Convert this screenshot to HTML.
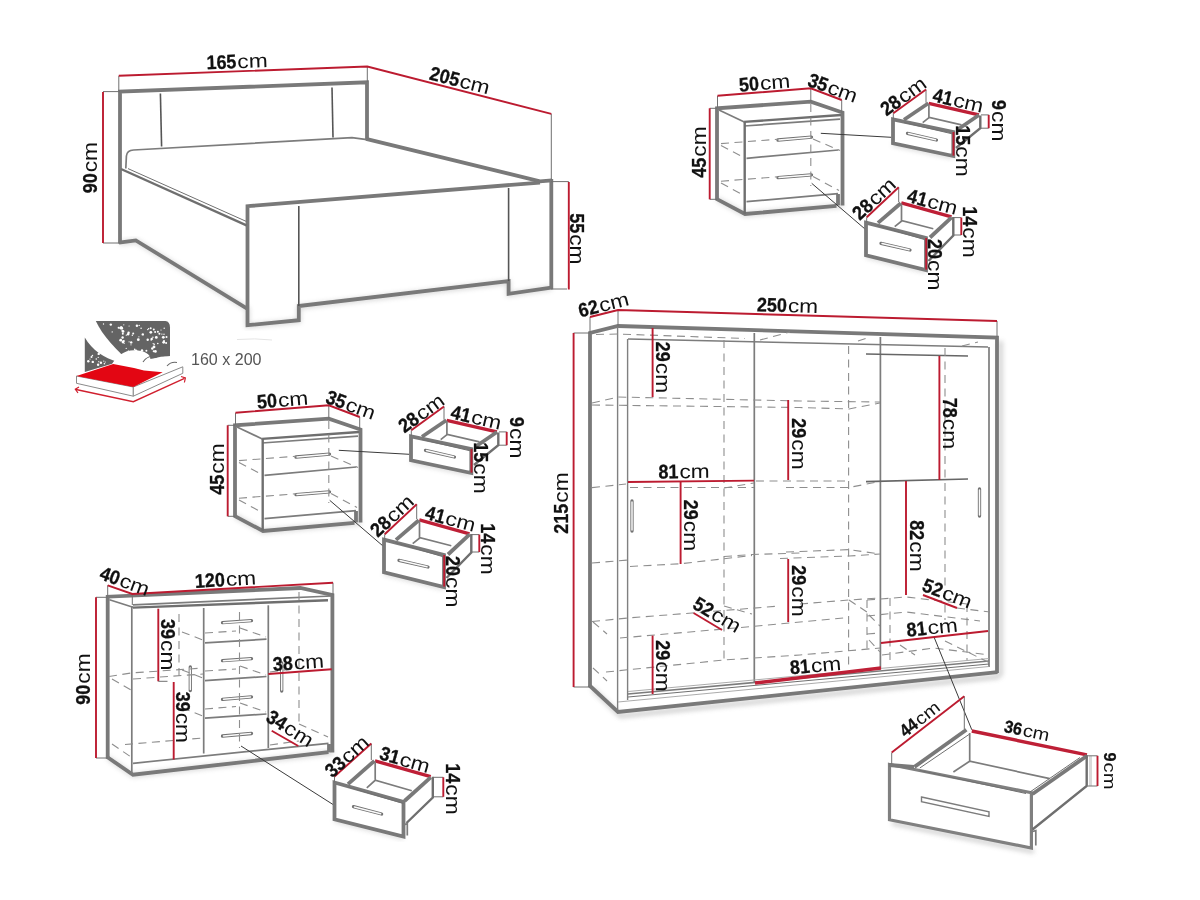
<!DOCTYPE html>
<html><head><meta charset="utf-8"><title>Dimensions</title>
<style>
html,body{margin:0;padding:0;background:#fff;}
body{width:1200px;height:900px;overflow:hidden;}
svg{display:block;will-change:transform;font-family:"Liberation Sans",sans-serif;fill:#111;}
path{fill:none;stroke-linecap:butt;stroke-linejoin:miter;}
.k{stroke:#797979;stroke-width:3.8;}
.k2{stroke:#6f6f6f;stroke-width:2.4;}
.m{stroke:#7c7c7c;stroke-width:1.7;}
.n{stroke:#808080;stroke-width:1.4;}
.t{stroke:#707070;stroke-width:1;}
.tt{stroke:#a2a2a2;stroke-width:0.9;}
.dk{stroke:#555;stroke-width:1.6;}
.d{stroke:#8e8e8e;stroke-width:1.1;stroke-dasharray:8 5.5;}
.r{stroke:#bc1b30;stroke-width:1.9;}
.R{stroke:#be1f36;stroke-width:3.4;}
.p{stroke:#3a3a3a;stroke-width:1;}
.w{fill:#fff;}
.h{stroke:#727272;stroke-width:3.3;stroke-linecap:round;}
.hi{stroke:#fafafa;stroke-width:1.5;stroke-linecap:round;}
</style></head><body>
<svg width="1200" height="900" viewBox="0 0 1200 900">
<defs>
<filter id="sh" x="-5%" y="-5%" width="110%" height="110%"><feGaussianBlur stdDeviation="2.8"/></filter>
</defs>
<g id="bed">
<g filter="url(#sh)" opacity="0.35">
<path class="k" d="M120,243 L136,241 L247.5,309 L247.5,326 L299,321 L299,307 L508.5,282 L508.5,294.5 L551.5,288"/>
</g>
<path class="k" d="M120,243.5 L120,91.6 L367,82.3 L367,139"/>
<path class="k" d="M366,138.8 L540,181.3 L552,180.4"/>
<path class="k" d="M551.3,179 L551.3,287.6 L508.6,293.8 L508.6,281.2 L298.8,306 L298.8,320.2 L247.5,325.2 L247.5,206.2 L540,182.6"/>
<path class="k" d="M119,242.7 L135.8,240.4 L247.5,308.8"/>
<path class="k2" d="M121,169 L246.5,225.3"/>
<path class="t" d="M128,168.6 L246.5,221.5"/>
<path class="m" d="M125.8,168.5 L126.4,156 Q127,150.3 133.5,150 L352,137.6 L367,139.6"/>
<path class="dk" d="M160.4,93.5 L161.6,146.5"/>
<path class="dk" d="M332,87.5 L333,137.6"/>
<path class="dk" d="M298.8,206 L298.8,306"/>
<path class="dk" d="M508.6,188 L508.6,281"/>
<path class="t" d="M118.8,75.8 V91 M367.3,66.5 V82 M551.3,113.8 V180 M103,91.6 H120 M103,243 H120 M551,181.6 H568.8 M551,289 H567"/>
<path class="r" d="M118.8,75.8 L367.3,66.5 L551.3,113.8"/>
<path class="r" d="M103,92 V243"/>
<path class="r" d="M568.8,182 V289.5"/>
<g transform="translate(237,61) rotate(-2.1)" font-size="19.6"><text x="-30.65" y="7.15" font-weight="700" stroke="#111" stroke-width="0.3" textLength="30.0" lengthAdjust="spacingAndGlyphs">165</text><text x="0.35" y="7.15" textLength="30.3" lengthAdjust="spacingAndGlyphs">cm</text></g>
<g transform="translate(460,80) rotate(14.3)" font-size="19.6"><text x="-30.65" y="7.15" font-weight="700" stroke="#111" stroke-width="0.3" textLength="30.0" lengthAdjust="spacingAndGlyphs">205</text><text x="0.35" y="7.15" textLength="30.3" lengthAdjust="spacingAndGlyphs">cm</text></g>
<g transform="translate(89.8,167.7) rotate(-90)" font-size="19.6"><text x="-25.65" y="7.15" font-weight="700" stroke="#111" stroke-width="0.3" textLength="20.0" lengthAdjust="spacingAndGlyphs">90</text><text x="-4.65" y="7.15" textLength="30.3" lengthAdjust="spacingAndGlyphs">cm</text></g>
<g transform="translate(577.5,238.8) rotate(90)" font-size="19.6"><text x="-25.65" y="7.15" font-weight="700" stroke="#111" stroke-width="0.3" textLength="20.0" lengthAdjust="spacingAndGlyphs">55</text><text x="-4.65" y="7.15" textLength="30.3" lengthAdjust="spacingAndGlyphs">cm</text></g>
</g>
<g id="ns1">
<g filter="url(#sh)" opacity="0.35">
<path class="k" d="M717,199 L745,214.5 L836,206.3 L843,205.5 M866,256 L926,271 M893,144 L953.3,157"/>
</g>
<path class="k" d="M717,200 L717,108.3 L810.8,101.7 L842.5,112.5 L842.5,205.5"/>
<path class="k" d="M716,198.6 L745,214 L836.5,205.8"/>
<path class="k" d="M838,194 L838,205.4"/>
<path class="k2" d="M744,121.9 L841,115"/>
<path class="m" d="M744,126 L840,119.2"/>
<path class="m" d="M719,110 L744.3,121.9"/>
<path class="k2" d="M744.7,122 V214"/>
<path class="m" d="M746.5,158.3 L838.3,150"/>
<path class="m" d="M746.5,201.7 L838,193.7"/>
<path class="h" d="M778,140 L811.5,137.1"/>
<path class="hi" d="M779,140 L810.5,137.2"/>
<path class="h" d="M778,177.6 L811.5,174.9"/>
<path class="hi" d="M779,177.6 L810.5,175"/>
<path class="d" d="M721,143.6 L778,139.2"/>
<path class="d" d="M721,181.2 L778,176.8"/>
<path class="d" d="M810.8,104 V186"/>
<path class="d" d="M721,145.5 L744,157.5"/>
<path class="d" d="M721,183 L744,195.5"/>
<path class="d" d="M813,139 L840,150.5"/>
<path class="d" d="M813,176.5 L839,190.5"/>
<path class="p" d="M820.8,133.3 L891.3,137.3"/>
<path class="p" d="M811.7,183.3 L865,229"/>
<path class="t" d="M717.5,95.8 V108 M810.8,88.3 V101.5 M841.7,100 V112.5 M709.7,108.3 H717 M709.7,199.3 H717"/>
<path class="r" d="M717.5,95.8 L810.8,88.3 L841.7,100"/>
<path class="r" d="M709.7,108.3 V199.3"/>
<g transform="translate(764.5,82.5) rotate(-4.5)" font-size="19.6"><text x="-25.65" y="7.15" font-weight="700" stroke="#111" stroke-width="0.3" textLength="20.0" lengthAdjust="spacingAndGlyphs">50</text><text x="-4.65" y="7.15" textLength="30.3" lengthAdjust="spacingAndGlyphs">cm</text></g>
<g transform="translate(833,87.5) rotate(20)" font-size="19.6"><text x="-25.65" y="7.15" font-weight="700" stroke="#111" stroke-width="0.3" textLength="20.0" lengthAdjust="spacingAndGlyphs">35</text><text x="-4.65" y="7.15" textLength="30.3" lengthAdjust="spacingAndGlyphs">cm</text></g>
<g transform="translate(699,152) rotate(-90)" font-size="19.6"><text x="-25.65" y="7.15" font-weight="700" stroke="#111" stroke-width="0.3" textLength="20.0" lengthAdjust="spacingAndGlyphs">45</text><text x="-4.65" y="7.15" textLength="30.3" lengthAdjust="spacingAndGlyphs">cm</text></g>
<path class="k w" d="M893,119.3 L953.3,132 L953.3,156 L893,143.3 Z"/>
<path class="h" d="M907.5,133.4 L936.5,140"/>
<path class="hi" d="M908.5,133.6 L935.5,139.8"/>
<path class="k" d="M904,119.8 L928.4,103.3"/>
<path class="R" d="M928.7,103.4 L978.9,114.8"/>
<path class="k" d="M979,115 L957,130"/>
<path class="m" d="M928.9,104 V117.5 M922.7,122.7 L929.3,117.4 L961.5,124.8"/>
<path class="t" d="M904,122.5 L953,134"/>
<path class="k2" d="M980.3,115.5 V128.2 L956,148"/>
<path class="t" d="M981,114.9 H988.7 M981,128.2 H988.7 M893.3,113.3 V119 M926,89.6 V102.7"/>
<path class="r" d="M988.7,114.9 V128.2"/>
<path class="r" d="M953.5,132 V155.6"/>
<path class="r" d="M893.3,113.3 L926,89.6"/>
<g transform="translate(903,95.7) rotate(-36)" font-size="19.6"><text x="-25.65" y="7.15" font-weight="700" stroke="#111" stroke-width="0.3" textLength="20.0" lengthAdjust="spacingAndGlyphs">28</text><text x="-4.65" y="7.15" textLength="30.3" lengthAdjust="spacingAndGlyphs">cm</text></g>
<g transform="translate(958.3,100) rotate(13)" font-size="19.6"><text x="-25.65" y="7.15" font-weight="700" stroke="#111" stroke-width="0.3" textLength="20.0" lengthAdjust="spacingAndGlyphs">41</text><text x="-4.65" y="7.15" textLength="30.3" lengthAdjust="spacingAndGlyphs">cm</text></g>
<g transform="translate(998.7,120.7) rotate(90)" font-size="19.6"><text x="-20.65" y="7.15" font-weight="700" stroke="#111" stroke-width="0.3" textLength="10.0" lengthAdjust="spacingAndGlyphs">9</text><text x="-9.65" y="7.15" textLength="30.3" lengthAdjust="spacingAndGlyphs">cm</text></g>
<g transform="translate(963,151) rotate(90)" font-size="19.6"><text x="-25.65" y="7.15" font-weight="700" stroke="#111" stroke-width="0.3" textLength="20.0" lengthAdjust="spacingAndGlyphs">15</text><text x="-4.65" y="7.15" textLength="30.3" lengthAdjust="spacingAndGlyphs">cm</text></g>
<path class="k w" d="M866,222.7 L926,238 L926,270 L866,255.3 Z"/>
<path class="h" d="M881,243.4 L910,250"/>
<path class="hi" d="M882,243.6 L909,249.8"/>
<path class="k" d="M878,222.9 L900.8,203.3"/>
<path class="R" d="M901.3,202.8 L951.5,216.8"/>
<path class="k" d="M951.6,217.3 L930,237.5"/>
<path class="m" d="M901.5,203.5 V220.7 M894.7,226.7 L902,220.8 L933.3,228.7"/>
<path class="t" d="M877,225.5 L926,240"/>
<path class="k2" d="M953.3,217 V235.5 L928.5,261"/>
<path class="t" d="M954,217.6 H961.3 M954,235 H961.3 M866.7,217.3 V222.7 M898.7,187.3 V202"/>
<path class="r" d="M961.3,217.6 V235"/>
<path class="r" d="M926.2,238 V269.6"/>
<path class="r" d="M866.7,217.3 L898.7,187.3"/>
<g transform="translate(873.7,198.3) rotate(-43)" font-size="19.6"><text x="-25.65" y="7.15" font-weight="700" stroke="#111" stroke-width="0.3" textLength="20.0" lengthAdjust="spacingAndGlyphs">28</text><text x="-4.65" y="7.15" textLength="30.3" lengthAdjust="spacingAndGlyphs">cm</text></g>
<g transform="translate(932.7,201.3) rotate(15)" font-size="19.6"><text x="-25.65" y="7.15" font-weight="700" stroke="#111" stroke-width="0.3" textLength="20.0" lengthAdjust="spacingAndGlyphs">41</text><text x="-4.65" y="7.15" textLength="30.3" lengthAdjust="spacingAndGlyphs">cm</text></g>
<g transform="translate(970,232) rotate(90)" font-size="19.6"><text x="-25.65" y="7.15" font-weight="700" stroke="#111" stroke-width="0.3" textLength="20.0" lengthAdjust="spacingAndGlyphs">14</text><text x="-4.65" y="7.15" textLength="30.3" lengthAdjust="spacingAndGlyphs">cm</text></g>
<g transform="translate(935.3,264.7) rotate(90)" font-size="19.6"><text x="-25.65" y="7.15" font-weight="700" stroke="#111" stroke-width="0.3" textLength="20.0" lengthAdjust="spacingAndGlyphs">20</text><text x="-4.65" y="7.15" textLength="30.3" lengthAdjust="spacingAndGlyphs">cm</text></g>
</g>
<g id="ns2" transform="translate(-482,317)">
<g filter="url(#sh)" opacity="0.35">
<path class="k" d="M717,199 L745,214.5 L836,206.3 L843,205.5 M866,256 L926,271 M893,144 L953.3,157"/>
</g>
<path class="k" d="M717,200 L717,108.3 L810.8,101.7 L842.5,112.5 L842.5,205.5"/>
<path class="k" d="M716,198.6 L745,214 L836.5,205.8"/>
<path class="k" d="M838,194 L838,205.4"/>
<path class="k2" d="M744,121.9 L841,115"/>
<path class="m" d="M744,126 L840,119.2"/>
<path class="m" d="M719,110 L744.3,121.9"/>
<path class="k2" d="M744.7,122 V214"/>
<path class="m" d="M746.5,158.3 L838.3,150"/>
<path class="m" d="M746.5,201.7 L838,193.7"/>
<path class="h" d="M778,140 L811.5,137.1"/>
<path class="hi" d="M779,140 L810.5,137.2"/>
<path class="h" d="M778,177.6 L811.5,174.9"/>
<path class="hi" d="M779,177.6 L810.5,175"/>
<path class="d" d="M721,143.6 L778,139.2"/>
<path class="d" d="M721,181.2 L778,176.8"/>
<path class="d" d="M810.8,104 V186"/>
<path class="d" d="M721,145.5 L744,157.5"/>
<path class="d" d="M721,183 L744,195.5"/>
<path class="d" d="M813,139 L840,150.5"/>
<path class="d" d="M813,176.5 L839,190.5"/>
<path class="p" d="M820.8,133.3 L891.3,137.3"/>
<path class="p" d="M811.7,183.3 L865,229"/>
<path class="t" d="M717.5,95.8 V108 M810.8,88.3 V101.5 M841.7,100 V112.5 M709.7,108.3 H717 M709.7,199.3 H717"/>
<path class="r" d="M717.5,95.8 L810.8,88.3 L841.7,100"/>
<path class="r" d="M709.7,108.3 V199.3"/>
<g transform="translate(764.5,82.5) rotate(-4.5)" font-size="19.6"><text x="-25.65" y="7.15" font-weight="700" stroke="#111" stroke-width="0.3" textLength="20.0" lengthAdjust="spacingAndGlyphs">50</text><text x="-4.65" y="7.15" textLength="30.3" lengthAdjust="spacingAndGlyphs">cm</text></g>
<g transform="translate(833,87.5) rotate(20)" font-size="19.6"><text x="-25.65" y="7.15" font-weight="700" stroke="#111" stroke-width="0.3" textLength="20.0" lengthAdjust="spacingAndGlyphs">35</text><text x="-4.65" y="7.15" textLength="30.3" lengthAdjust="spacingAndGlyphs">cm</text></g>
<g transform="translate(699,152) rotate(-90)" font-size="19.6"><text x="-25.65" y="7.15" font-weight="700" stroke="#111" stroke-width="0.3" textLength="20.0" lengthAdjust="spacingAndGlyphs">45</text><text x="-4.65" y="7.15" textLength="30.3" lengthAdjust="spacingAndGlyphs">cm</text></g>
<path class="k w" d="M893,119.3 L953.3,132 L953.3,156 L893,143.3 Z"/>
<path class="h" d="M907.5,133.4 L936.5,140"/>
<path class="hi" d="M908.5,133.6 L935.5,139.8"/>
<path class="k" d="M904,119.8 L928.4,103.3"/>
<path class="R" d="M928.7,103.4 L978.9,114.8"/>
<path class="k" d="M979,115 L957,130"/>
<path class="m" d="M928.9,104 V117.5 M922.7,122.7 L929.3,117.4 L961.5,124.8"/>
<path class="t" d="M904,122.5 L953,134"/>
<path class="k2" d="M980.3,115.5 V128.2 L956,148"/>
<path class="t" d="M981,114.9 H988.7 M981,128.2 H988.7 M893.3,113.3 V119 M926,89.6 V102.7"/>
<path class="r" d="M988.7,114.9 V128.2"/>
<path class="r" d="M953.5,132 V155.6"/>
<path class="r" d="M893.3,113.3 L926,89.6"/>
<g transform="translate(903,95.7) rotate(-36)" font-size="19.6"><text x="-25.65" y="7.15" font-weight="700" stroke="#111" stroke-width="0.3" textLength="20.0" lengthAdjust="spacingAndGlyphs">28</text><text x="-4.65" y="7.15" textLength="30.3" lengthAdjust="spacingAndGlyphs">cm</text></g>
<g transform="translate(958.3,100) rotate(13)" font-size="19.6"><text x="-25.65" y="7.15" font-weight="700" stroke="#111" stroke-width="0.3" textLength="20.0" lengthAdjust="spacingAndGlyphs">41</text><text x="-4.65" y="7.15" textLength="30.3" lengthAdjust="spacingAndGlyphs">cm</text></g>
<g transform="translate(998.7,120.7) rotate(90)" font-size="19.6"><text x="-20.65" y="7.15" font-weight="700" stroke="#111" stroke-width="0.3" textLength="10.0" lengthAdjust="spacingAndGlyphs">9</text><text x="-9.65" y="7.15" textLength="30.3" lengthAdjust="spacingAndGlyphs">cm</text></g>
<g transform="translate(963,151) rotate(90)" font-size="19.6"><text x="-25.65" y="7.15" font-weight="700" stroke="#111" stroke-width="0.3" textLength="20.0" lengthAdjust="spacingAndGlyphs">15</text><text x="-4.65" y="7.15" textLength="30.3" lengthAdjust="spacingAndGlyphs">cm</text></g>
<path class="k w" d="M866,222.7 L926,238 L926,270 L866,255.3 Z"/>
<path class="h" d="M881,243.4 L910,250"/>
<path class="hi" d="M882,243.6 L909,249.8"/>
<path class="k" d="M878,222.9 L900.8,203.3"/>
<path class="R" d="M901.3,202.8 L951.5,216.8"/>
<path class="k" d="M951.6,217.3 L930,237.5"/>
<path class="m" d="M901.5,203.5 V220.7 M894.7,226.7 L902,220.8 L933.3,228.7"/>
<path class="t" d="M877,225.5 L926,240"/>
<path class="k2" d="M953.3,217 V235.5 L928.5,261"/>
<path class="t" d="M954,217.6 H961.3 M954,235 H961.3 M866.7,217.3 V222.7 M898.7,187.3 V202"/>
<path class="r" d="M961.3,217.6 V235"/>
<path class="r" d="M926.2,238 V269.6"/>
<path class="r" d="M866.7,217.3 L898.7,187.3"/>
<g transform="translate(873.7,198.3) rotate(-43)" font-size="19.6"><text x="-25.65" y="7.15" font-weight="700" stroke="#111" stroke-width="0.3" textLength="20.0" lengthAdjust="spacingAndGlyphs">28</text><text x="-4.65" y="7.15" textLength="30.3" lengthAdjust="spacingAndGlyphs">cm</text></g>
<g transform="translate(932.7,201.3) rotate(15)" font-size="19.6"><text x="-25.65" y="7.15" font-weight="700" stroke="#111" stroke-width="0.3" textLength="20.0" lengthAdjust="spacingAndGlyphs">41</text><text x="-4.65" y="7.15" textLength="30.3" lengthAdjust="spacingAndGlyphs">cm</text></g>
<g transform="translate(970,232) rotate(90)" font-size="19.6"><text x="-25.65" y="7.15" font-weight="700" stroke="#111" stroke-width="0.3" textLength="20.0" lengthAdjust="spacingAndGlyphs">14</text><text x="-4.65" y="7.15" textLength="30.3" lengthAdjust="spacingAndGlyphs">cm</text></g>
<g transform="translate(935.3,264.7) rotate(90)" font-size="19.6"><text x="-25.65" y="7.15" font-weight="700" stroke="#111" stroke-width="0.3" textLength="20.0" lengthAdjust="spacingAndGlyphs">20</text><text x="-4.65" y="7.15" textLength="30.3" lengthAdjust="spacingAndGlyphs">cm</text></g>
</g>
<g id="dresser">
<g filter="url(#sh)" opacity="0.35">
<path class="k" d="M107.7,757.5 L133,775.5 L328.5,753 L333,752.5 M334.5,820 L403.5,837.5"/>
</g>
<path class="k" d="M107.7,758.5 L107.7,596.7 L300.3,588 L332.4,595 L332.4,752.6"/>
<path class="k" d="M106.8,756.8 L133,774.7 L328.5,752.2"/>
<path class="k" d="M329,744 V752.4"/>
<path class="m" d="M109.5,599.8 L133,607.3"/>
<path class="k2" d="M133,607.6 L328,600.2"/>
<path class="m" d="M133,604.8 L331.5,596"/>
<path class="m" d="M131.8,606 V773.5"/>
<path class="m" d="M203.7,608 V753.5"/>
<path class="m" d="M268.3,605.3 V748"/>
<path class="m" d="M205,642.8 L266.5,639.2 M205,680.6 L266.5,676.5 M205,718.2 L266.5,714"/>
<path class="m" d="M133,763.3 L328.5,743.3"/>
<path class="h" d="M222.5,622.7 L251.5,620.7"/>
<path class="hi" d="M223.5,622.7 L250.5,620.7"/>
<path class="h" d="M222.5,660.7 L251.5,658.7"/>
<path class="hi" d="M223.5,660.7 L250.5,658.7"/>
<path class="h" d="M222.5,699.3 L251.5,696.9"/>
<path class="hi" d="M223.5,699.3 L250.5,696.9"/>
<path class="h" d="M222.5,736 L251.5,733.5"/>
<path class="hi" d="M223.5,736 L250.5,733.5"/>
<path class="h" d="M190.3,667 V690.5"/>
<path class="hi" d="M190.3,668 V689.5"/>
<path class="h" d="M281.7,663 V691"/>
<path class="hi" d="M281.7,664 V690"/>
<path class="d" d="M179,614 V678"/>
<path class="d" d="M299,592 V724"/>
<path class="d" d="M239.5,612 V748"/>
<path class="d" d="M109,676.5 L131,673 L203,668"/>
<path class="d" d="M112,679 L131,690"/>
<path class="d" d="M133,679 L203,674"/>
<path class="d" d="M125,744.5 L203,738"/>
<path class="d" d="M112,744 L131,757"/>
<path class="d" d="M182,632 L203,640 M182,670 L203,678 M182,708 L203,716"/>
<path class="d" d="M240,628 L266,637 M240,666 L266,675 M240,703 L266,712"/>
<path class="d" d="M205,633 L236,631 M205,671 L236,669 M205,709 L236,706.5"/>
<path class="d" d="M270,672 L299,668"/>
<path class="d" d="M299,724 L328,737"/>
<path class="d" d="M270,745 L299,741"/>
<path class="p" d="M241,746 L333.8,805"/>
<path class="t" d="M107.7,585.3 V596.5 M132.3,594 V605 M333,582.7 V595 M96,597.3 H107.7 M96,758 H107.7"/>
<path class="r" d="M107.7,585.3 L132.3,594 L333,582.7"/>
<path class="r" d="M96,597.3 V758"/>
<path class="r" d="M158.3,608.7 V681.3"/>
<path class="t" d="M158.3,681.3 H167.5"/>
<path class="r" d="M173.7,682 V759.5"/>
<path class="r" d="M268.3,674 L331.7,669.3"/>
<path class="r" d="M271.7,730.7 L298.3,746"/>
<g transform="translate(125,580.7) rotate(20)" font-size="19.6"><text x="-25.65" y="7.15" font-weight="700" stroke="#111" stroke-width="0.3" textLength="20.0" lengthAdjust="spacingAndGlyphs">40</text><text x="-4.65" y="7.15" textLength="30.3" lengthAdjust="spacingAndGlyphs">cm</text></g>
<g transform="translate(225.4,579) rotate(-3.4)" font-size="19.6"><text x="-30.65" y="7.15" font-weight="700" stroke="#111" stroke-width="0.3" textLength="30.0" lengthAdjust="spacingAndGlyphs">120</text><text x="0.35" y="7.15" textLength="30.3" lengthAdjust="spacingAndGlyphs">cm</text></g>
<g transform="translate(83,679) rotate(-90)" font-size="19.6"><text x="-25.65" y="7.15" font-weight="700" stroke="#111" stroke-width="0.3" textLength="20.0" lengthAdjust="spacingAndGlyphs">90</text><text x="-4.65" y="7.15" textLength="30.3" lengthAdjust="spacingAndGlyphs">cm</text></g>
<g transform="translate(167.7,644.7) rotate(90)" font-size="19.6"><text x="-25.65" y="7.15" font-weight="700" stroke="#111" stroke-width="0.3" textLength="20.0" lengthAdjust="spacingAndGlyphs">39</text><text x="-4.65" y="7.15" textLength="30.3" lengthAdjust="spacingAndGlyphs">cm</text></g>
<g transform="translate(183,717.3) rotate(90)" font-size="19.6"><text x="-25.65" y="7.15" font-weight="700" stroke="#111" stroke-width="0.3" textLength="20.0" lengthAdjust="spacingAndGlyphs">39</text><text x="-4.65" y="7.15" textLength="30.3" lengthAdjust="spacingAndGlyphs">cm</text></g>
<g transform="translate(298.3,662) rotate(-4)" font-size="19.6"><text x="-25.65" y="7.15" font-weight="700" stroke="#111" stroke-width="0.3" textLength="20.0" lengthAdjust="spacingAndGlyphs">38</text><text x="-4.65" y="7.15" textLength="30.3" lengthAdjust="spacingAndGlyphs">cm</text></g>
<g transform="translate(290.3,728) rotate(32)" font-size="19.6"><text x="-25.65" y="7.15" font-weight="700" stroke="#111" stroke-width="0.3" textLength="20.0" lengthAdjust="spacingAndGlyphs">34</text><text x="-4.65" y="7.15" textLength="30.3" lengthAdjust="spacingAndGlyphs">cm</text></g>
<path class="k w" d="M334.5,782.5 L403.5,802 L403.5,836.5 L334.5,819.3 Z"/>
<path class="h" d="M353.5,806.6 L381.6,814"/>
<path class="hi" d="M354.5,806.9 L380.6,813.7"/>
<path class="k" d="M348,784.2 L374.4,760.8"/>
<path class="R" d="M375,760.9 L430.7,776.6"/>
<path class="k" d="M430.7,777.3 L404.5,801"/>
<path class="m" d="M375.2,761.5 V779.5 M366.8,787.8 L375.2,780.3 L411.8,790.8"/>
<path class="t" d="M348,787 L403.5,803.5"/>
<path class="k2" d="M432.8,776.8 V797.5 L406.5,823"/>
<path class="m" d="M403.5,824.6 L407.3,823.8 V835.5"/>
<path class="t" d="M433.5,777.3 H443.3 M433.5,796.8 H443.3 M334.5,776.5 V782.5 M371.3,743.5 V760"/>
<path class="r" d="M443.3,777.3 V796.8"/>
<path class="r" d="M334.5,776.5 L371.3,743.5"/>
<g transform="translate(346.5,756) rotate(-42)" font-size="19.6"><text x="-25.65" y="7.15" font-weight="700" stroke="#111" stroke-width="0.3" textLength="20.0" lengthAdjust="spacingAndGlyphs">33</text><text x="-4.65" y="7.15" textLength="30.3" lengthAdjust="spacingAndGlyphs">cm</text></g>
<g transform="translate(405,759.3) rotate(16)" font-size="19.6"><text x="-25.65" y="7.15" font-weight="700" stroke="#111" stroke-width="0.3" textLength="20.0" lengthAdjust="spacingAndGlyphs">31</text><text x="-4.65" y="7.15" textLength="30.3" lengthAdjust="spacingAndGlyphs">cm</text></g>
<g transform="translate(453,789) rotate(90)" font-size="19.6"><text x="-25.65" y="7.15" font-weight="700" stroke="#111" stroke-width="0.3" textLength="20.0" lengthAdjust="spacingAndGlyphs">14</text><text x="-4.65" y="7.15" textLength="30.3" lengthAdjust="spacingAndGlyphs">cm</text></g>
</g>
<g id="wardrobe">
<g filter="url(#sh)" opacity="0.42" transform="translate(2.5,3)">
<path class="k" d="M590,686 L618,713 L997,673.5 M998,338 V673 M889.5,820 L1031.4,848.5"/>
</g>
<path class="k" d="M590,687 L590,333 L618,326 L997,337.6 L997,673"/>
<path class="k" d="M589,685 L618,712 L997.5,672.2"/>
<path class="n" d="M617.6,327 V710"/>
<path class="n" d="M627.6,339 V700"/>
<path class="m" d="M754.3,333 V683"/>
<path class="m" d="M880.4,337 V668"/>
<path class="m" d="M989,347 V667"/>
<path class="m" d="M628,339 L988,347"/>
<path class="m" d="M628,694 L989,661"/>
<path class="tt" d="M628,691.5 L989,658.5"/>
<path class="tt" d="M618,702 L989,666.5"/>
<path class="t" d="M628,697 L989,664"/>
<path d="M866,354 L968,356" style="stroke:#666;stroke-width:1.7"/>
<path d="M866,481.6 L968,479" style="stroke:#666;stroke-width:1.7"/>
<path class="h" d="M632,501 V531"/>
<path class="hi" d="M632,502 V530"/>
<path class="h" d="M979.5,489 V516"/>
<path class="hi" d="M979.5,490 V515"/>
<path class="d" d="M724,340 V661"/>
<path class="d" d="M848.6,346 V668"/>
<path class="d" d="M945,348 V620"/>
<path class="d" d="M596,334.5 L618,334 L745,338.5"/>
<path class="d" d="M760,340 L790,332"/>
<path class="d" d="M858,341 L870,337 M962,346 L978,342"/>
<path class="d" d="M592,403 L618,397 L800,401 L880,402"/>
<path class="d" d="M592,405 L800,407.5 L849,409 L880,403"/>
<path class="d" d="M592,487.6 L626,484"/>
<path class="d" d="M630,487.5 L754,487.5"/>
<path class="d" d="M724,488 L754,483"/>
<path class="d" d="M756,481 L849,481"/>
<path class="d" d="M786,487.5 L849,487.5 L880,481.5"/>
<path class="d" d="M592,563 L628,560"/>
<path class="d" d="M630,566.5 L680,563.8 L752,555.5"/>
<path class="d" d="M724,556.5 L752,554.5 L800,553"/>
<path class="d" d="M786,552 L849,549.6 L880,554"/>
<path class="d" d="M780,558.5 L849,556 L880,554"/>
<path class="d" d="M592,621.5 L628,618 L692,613 L780,606"/>
<path class="d" d="M800,604 L849,600 L880,598"/>
<path class="d" d="M620,638 L724,629 L800,622 L849,617.5"/>
<path class="d" d="M606,672 L724,660 L800,655 L880,648"/>
<path class="d" d="M593,622 L607,634 M593,668 L607,681"/>
<path class="d" d="M724,606 L752,614"/>
<path class="d" d="M849,600 L867,612"/>
<path class="d" d="M867,600 L906,597 L967,604"/>
<path class="d" d="M867,600 V650"/>
<path class="d" d="M867,616 L906,612 L980,621"/>
<path class="d" d="M890,598 V664"/>
<path class="d" d="M967,604 V660"/>
<path class="d" d="M867,634 L880,633"/>
<path class="d" d="M882,655 L934,648 L990,655"/>
<path class="d" d="M945,641 L990,663"/>
<path class="d" d="M869,615 L880,626 M869,640 L880,652 M900,645 L915,655"/>
<path class="d" d="M957,608 L990,612"/>
<path class="p" d="M934,637 L971.8,729.8"/>
<path class="t" d="M590,317 V333 M618,310 V326 M997,321 V337 M573.6,333 H590 M573.6,687 H590"/>
<path class="r" d="M590,317 L618,310 L997,321"/>
<path class="r" d="M573.6,333 V687"/>
<path class="r" d="M652.6,328 V397"/>
<path class="r" d="M788.2,400 V480"/>
<path class="r" d="M680.6,482 V564"/>
<path class="r" d="M788.2,559 V622"/>
<path class="r" d="M652.6,635.6 V694"/>
<path class="r" d="M939.4,356 V480"/>
<path class="r" d="M906,481 V595"/>
<path class="r" d="M628,482 L754,480.6"/>
<path class="R" d="M755,683 L881,668"/>
<path class="r" d="M881,643 L988,631"/>
<path class="r" d="M693.6,613 L722,630"/>
<path class="r" d="M923,595 L957,608"/>
<g transform="translate(603.5,304.3) rotate(-14)" font-size="19.6"><text x="-25.65" y="7.15" font-weight="700" stroke="#111" stroke-width="0.3" textLength="20.0" lengthAdjust="spacingAndGlyphs">62</text><text x="-4.65" y="7.15" textLength="30.3" lengthAdjust="spacingAndGlyphs">cm</text></g>
<g transform="translate(787.5,305) rotate(1.7)" font-size="19.6"><text x="-30.65" y="7.15" font-weight="700" stroke="#111" stroke-width="0.3" textLength="30.0" lengthAdjust="spacingAndGlyphs">250</text><text x="0.35" y="7.15" textLength="30.3" lengthAdjust="spacingAndGlyphs">cm</text></g>
<g transform="translate(560.8,503) rotate(-90)" font-size="19.6"><text x="-30.65" y="7.15" font-weight="700" stroke="#111" stroke-width="0.3" textLength="30.0" lengthAdjust="spacingAndGlyphs">215</text><text x="0.35" y="7.15" textLength="30.3" lengthAdjust="spacingAndGlyphs">cm</text></g>
<g transform="translate(663,367.5) rotate(90)" font-size="19.6"><text x="-25.65" y="7.15" font-weight="700" stroke="#111" stroke-width="0.3" textLength="20.0" lengthAdjust="spacingAndGlyphs">29</text><text x="-4.65" y="7.15" textLength="30.3" lengthAdjust="spacingAndGlyphs">cm</text></g>
<g transform="translate(799,444) rotate(90)" font-size="19.6"><text x="-25.65" y="7.15" font-weight="700" stroke="#111" stroke-width="0.3" textLength="20.0" lengthAdjust="spacingAndGlyphs">29</text><text x="-4.65" y="7.15" textLength="30.3" lengthAdjust="spacingAndGlyphs">cm</text></g>
<g transform="translate(691,525.5) rotate(90)" font-size="19.6"><text x="-25.65" y="7.15" font-weight="700" stroke="#111" stroke-width="0.3" textLength="20.0" lengthAdjust="spacingAndGlyphs">29</text><text x="-4.65" y="7.15" textLength="30.3" lengthAdjust="spacingAndGlyphs">cm</text></g>
<g transform="translate(799,591) rotate(90)" font-size="19.6"><text x="-25.65" y="7.15" font-weight="700" stroke="#111" stroke-width="0.3" textLength="20.0" lengthAdjust="spacingAndGlyphs">29</text><text x="-4.65" y="7.15" textLength="30.3" lengthAdjust="spacingAndGlyphs">cm</text></g>
<g transform="translate(663,666) rotate(90)" font-size="19.6"><text x="-25.65" y="7.15" font-weight="700" stroke="#111" stroke-width="0.3" textLength="20.0" lengthAdjust="spacingAndGlyphs">29</text><text x="-4.65" y="7.15" textLength="30.3" lengthAdjust="spacingAndGlyphs">cm</text></g>
<g transform="translate(950,423.5) rotate(90)" font-size="19.6"><text x="-25.65" y="7.15" font-weight="700" stroke="#111" stroke-width="0.3" textLength="20.0" lengthAdjust="spacingAndGlyphs">78</text><text x="-4.65" y="7.15" textLength="30.3" lengthAdjust="spacingAndGlyphs">cm</text></g>
<g transform="translate(917,546) rotate(90)" font-size="19.6"><text x="-25.65" y="7.15" font-weight="700" stroke="#111" stroke-width="0.3" textLength="20.0" lengthAdjust="spacingAndGlyphs">82</text><text x="-4.65" y="7.15" textLength="30.3" lengthAdjust="spacingAndGlyphs">cm</text></g>
<g transform="translate(684,471) rotate(-0.6)" font-size="19.6"><text x="-25.65" y="7.15" font-weight="700" stroke="#111" stroke-width="0.3" textLength="20.0" lengthAdjust="spacingAndGlyphs">81</text><text x="-4.65" y="7.15" textLength="30.3" lengthAdjust="spacingAndGlyphs">cm</text></g>
<g transform="translate(815.5,665) rotate(-5)" font-size="19.6"><text x="-25.65" y="7.15" font-weight="700" stroke="#111" stroke-width="0.3" textLength="20.0" lengthAdjust="spacingAndGlyphs">81</text><text x="-4.65" y="7.15" textLength="30.3" lengthAdjust="spacingAndGlyphs">cm</text></g>
<g transform="translate(932,627) rotate(-6)" font-size="19.6"><text x="-25.65" y="7.15" font-weight="700" stroke="#111" stroke-width="0.3" textLength="20.0" lengthAdjust="spacingAndGlyphs">81</text><text x="-4.65" y="7.15" textLength="30.3" lengthAdjust="spacingAndGlyphs">cm</text></g>
<g transform="translate(717.4,614.4) rotate(30)" font-size="19.6"><text x="-25.65" y="7.15" font-weight="700" stroke="#111" stroke-width="0.3" textLength="20.0" lengthAdjust="spacingAndGlyphs">52</text><text x="-4.65" y="7.15" textLength="30.3" lengthAdjust="spacingAndGlyphs">cm</text></g>
<g transform="translate(947.6,593) rotate(21)" font-size="19.6"><text x="-25.65" y="7.15" font-weight="700" stroke="#111" stroke-width="0.3" textLength="20.0" lengthAdjust="spacingAndGlyphs">52</text><text x="-4.65" y="7.15" textLength="30.3" lengthAdjust="spacingAndGlyphs">cm</text></g>
<path class="k w" style="stroke-width:3.2;stroke:#808080" d="M889.5,764.5 L1031.4,792.7 L1031.4,848 L889.5,819.8 Z"/>
<path d="M921.5,797 L989,811.9 L989,816.5 L921.5,801.6 Z" style="fill:#fff;stroke:#7c7c7c;stroke-width:1.4"/>
<path class="k" d="M889,765 L914,767"/>
<path class="k" d="M914.4,766.9 L966.4,729.8"/>
<path class="t" d="M919.8,768 L969.7,734"/>
<path class="R" d="M971.8,731 L1086.9,754.9"/>
<path class="k" d="M1087,755.8 L1032.5,794"/>
<path class="t" d="M1080,757.5 L1030,792"/>
<path class="m" d="M969.7,733 V761 M953.4,772 L969.7,761.2 L1049.8,778.6"/>
<path class="t" d="M919.8,770.5 L1026,793.5"/>
<path class="k2" d="M1086.7,755 V786 L1032.5,829.5"/>
<path class="m" d="M1031.4,831.7 L1035.8,830.6 V845.5"/>
<path d="M1090.5,756 V786" style="stroke:#d9d9d9;stroke-width:3"/>
<path class="t" d="M1088,755.8 H1097.5 M1088,786 H1097.5 M891.7,752.6 V764 M964.3,696.3 V729"/>
<path class="r" d="M1097.5,755.8 V786"/>
<path class="r" d="M891.7,752.6 L964.3,696.3"/>
<g transform="translate(919.4,718.6) rotate(-38)" font-size="17.3"><text x="-22.90" y="6.31" font-weight="700" stroke="#111" stroke-width="0.3" textLength="18.0" lengthAdjust="spacingAndGlyphs">44</text><text x="-3.90" y="6.31" textLength="26.8" lengthAdjust="spacingAndGlyphs">cm</text></g>
<g transform="translate(1027,730.3) rotate(12)" font-size="17.3"><text x="-22.90" y="6.31" font-weight="700" stroke="#111" stroke-width="0.3" textLength="18.0" lengthAdjust="spacingAndGlyphs">36</text><text x="-3.90" y="6.31" textLength="26.8" lengthAdjust="spacingAndGlyphs">cm</text></g>
<g transform="translate(1110.5,771) rotate(90)" font-size="17.3"><text x="-18.40" y="6.31" font-weight="700" stroke="#111" stroke-width="0.3" textLength="9.0" lengthAdjust="spacingAndGlyphs">9</text><text x="-8.40" y="6.31" textLength="26.8" lengthAdjust="spacingAndGlyphs">cm</text></g>
</g>
<g id="icon">
<path d="M95.8,321 L165.4,321 Q170,321.5 170,327.5 L170,356 L130,362 C118,352 102,335 95.8,321 Z" style="fill:#646464;stroke:none"/>
<path d="M84.8,337.5 C92,350 104,358 118,362 L84.8,372 Z" style="fill:#646464;stroke:none"/>
<g style="fill:#fff;stroke:none"><circle cx="121.7" cy="328.2" r="1.4"/><circle cx="161.0" cy="330.0" r="0.6"/><circle cx="129.1" cy="326.0" r="0.6"/><circle cx="136.9" cy="325.7" r="1.2"/><circle cx="142.0" cy="350.5" r="1.2"/><circle cx="139.2" cy="325.4" r="0.7"/><circle cx="119.4" cy="328.0" r="0.6"/><circle cx="138.3" cy="339.7" r="1.4"/><circle cx="142.8" cy="334.4" r="1.2"/><circle cx="147.7" cy="339.8" r="1.2"/><circle cx="128.6" cy="332.8" r="1.2"/><circle cx="161.9" cy="334.1" r="0.7"/><circle cx="153.2" cy="343.6" r="0.7"/><circle cx="133.2" cy="333.6" r="1.0"/><circle cx="150.7" cy="328.3" r="1.0"/><circle cx="128.3" cy="350.9" r="0.6"/><circle cx="151.2" cy="340.0" r="0.8"/><circle cx="122.8" cy="333.8" r="1.0"/><circle cx="138.9" cy="336.8" r="0.6"/><circle cx="163.3" cy="337.3" r="1.4"/><circle cx="120.7" cy="340.2" r="1.4"/><circle cx="155.1" cy="332.0" r="1.0"/><circle cx="159.4" cy="333.7" r="1.0"/><circle cx="123.8" cy="341.1" r="1.0"/><circle cx="126.2" cy="348.4" r="0.6"/><circle cx="118.6" cy="327.8" r="1.0"/><circle cx="157.9" cy="331.8" r="1.0"/><circle cx="166.1" cy="343.1" r="1.0"/><circle cx="164.2" cy="328.2" r="0.7"/><circle cx="112.2" cy="331.9" r="0.7"/><circle cx="128.1" cy="334.3" r="1.2"/><circle cx="121.3" cy="327.5" r="1.2"/><circle cx="163.7" cy="342.3" r="1.4"/><circle cx="152.3" cy="348.5" r="1.2"/><circle cx="126.3" cy="335.2" r="0.6"/><circle cx="132.3" cy="335.2" r="0.7"/><circle cx="103.5" cy="324.0" r="0.7"/><circle cx="136.0" cy="350.6" r="1.2"/><circle cx="141.1" cy="328.2" r="0.8"/><circle cx="164.0" cy="340.9" r="1.0"/><circle cx="166.5" cy="337.0" r="1.0"/><circle cx="120.9" cy="328.0" r="1.4"/><circle cx="123.0" cy="331.4" r="1.4"/><circle cx="110.8" cy="324.6" r="1.2"/><circle cx="124.2" cy="343.3" r="0.6"/><circle cx="150.8" cy="332.3" r="1.4"/><circle cx="157.8" cy="343.5" r="0.8"/><circle cx="134.7" cy="349.4" r="0.8"/><circle cx="151.7" cy="338.9" r="1.2"/><circle cx="122.1" cy="330.2" r="0.7"/><circle cx="154.0" cy="346.9" r="1.4"/><circle cx="153.8" cy="329.6" r="1.0"/><circle cx="123.8" cy="324.8" r="0.6"/><circle cx="152.9" cy="337.2" r="0.7"/><circle cx="146.4" cy="350.8" r="1.0"/><circle cx="154.2" cy="344.2" r="0.8"/><circle cx="164.0" cy="334.2" r="0.7"/><circle cx="122.6" cy="337.5" r="1.2"/><circle cx="156.3" cy="337.4" r="1.4"/><circle cx="123.0" cy="342.0" r="1.4"/><circle cx="147.7" cy="329.6" r="0.7"/><circle cx="129.1" cy="341.8" r="0.6"/><circle cx="153.7" cy="351.2" r="1.0"/><circle cx="131.0" cy="344.8" r="0.6"/><circle cx="148.6" cy="328.8" r="0.7"/><circle cx="131.2" cy="342.4" r="1.2"/><circle cx="155.4" cy="351.4" r="1.4"/><circle cx="103.8" cy="361.1" r="0.6"/><circle cx="98.1" cy="364.8" r="1.2"/><circle cx="91.5" cy="357.0" r="1.0"/><circle cx="92.4" cy="355.5" r="0.8"/><circle cx="88.3" cy="361.3" r="1.2"/><circle cx="100.9" cy="362.7" r="1.2"/><circle cx="104.4" cy="363.8" r="0.8"/><circle cx="98.2" cy="357.4" r="0.6"/><circle cx="105.3" cy="362.0" r="0.6"/><circle cx="90.0" cy="359.1" r="0.6"/><circle cx="98.7" cy="353.9" r="1.2"/><circle cx="92.8" cy="361.9" r="1.2"/><circle cx="98.8" cy="361.7" r="0.6"/><circle cx="96.3" cy="359.0" r="0.8"/></g>
<path d="M111,366 C116,355 127,348.5 138,350.5 C147,351.5 152,356 150,361 C158,355 172,355 180,361 C186,365.5 184,370 177,371.5 L150,375 L130,370 Z" style="fill:#fff;stroke:none"/>
<path d="M143,362 C146,357 151,356 154,356.5 M167,366 C170,362.5 174,362 177,362.5" style="stroke:#666;stroke-width:1.1"/>
<path d="M76.5,376 L133.3,387 L133.3,396.2 L76.5,383.3 Z" style="fill:#fff;stroke:#8a8a8a;stroke-width:1"/>
<path d="M133.3,387 L182.8,366.8 L182.8,373.3 L133.3,396.2 Z" style="fill:#fff;stroke:#8a8a8a;stroke-width:1"/>
<path d="M76.5,376 L113.2,364 L134,368 L144,370.5 L162.7,372.3 L133.3,387 Z" style="fill:#e30613;stroke:none"/>
<path d="M76,389.5 L133.3,401.7 L184.5,378.3" style="stroke:#d01f2e;stroke-width:1.3"/>
<path d="M79,387 L75.3,389.2 L78,393 M181,376.5 L185.4,377.8 L184.4,382.5" style="stroke:#d01f2e;stroke-width:1.2"/>
<text x="191" y="365" font-size="16.6" textLength="70.5" lengthAdjust="spacingAndGlyphs" style="fill:#555">160 x 200</text>
<path d="M237,339.5 Q255,338 272,340" style="stroke:#e4e4e4;stroke-width:1"/>
</g>
</svg>
</body></html>
